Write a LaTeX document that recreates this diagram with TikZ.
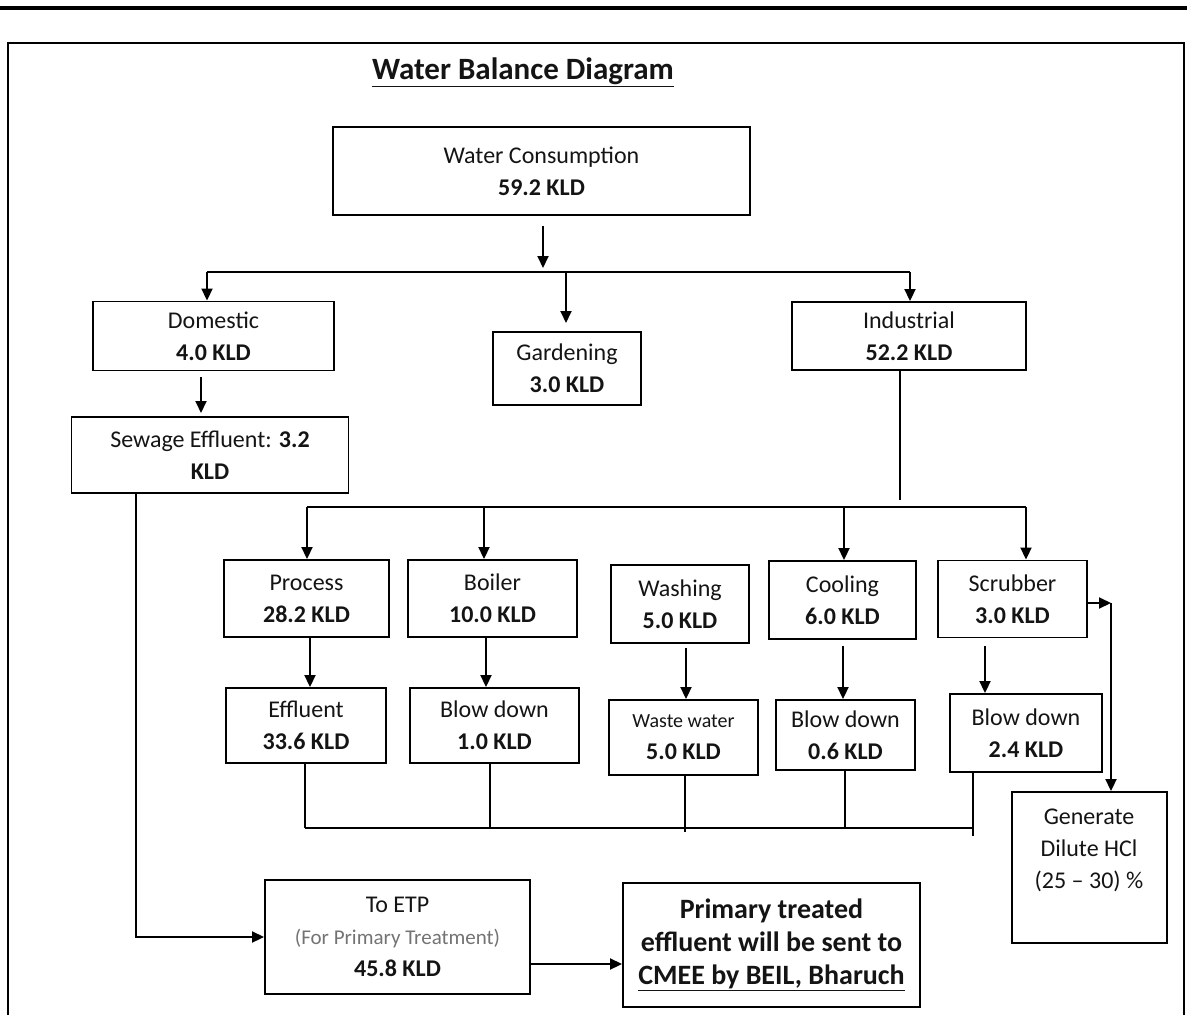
\documentclass[tikz,border=0pt]{standalone}
\usepackage{fontspec}
\setmainfont{Carlito}
\usetikzlibrary{arrows.meta}
\begin{document}
\begin{tikzpicture}[x=1pt,y=-1pt,
  box/.style={draw=black, line width=1.9pt, rectangle, inner sep=0pt, align=center,
    font=\fontsize{24}{32}\selectfont, text=black!92},
  txt/.style={inner sep=0pt, align=center, font=\fontsize{24}{32}\selectfont, text=black!92},
  arr/.style={line width=1.9pt, -{Triangle[length=12pt,width=11pt]}},
  ln/.style={line width=1.9pt}]
\useasboundingbox (0,0) rectangle (1187,1015);
% page rule and frame
\draw[line width=3.5pt] (0,8) -- (1187,8);
\draw[line width=2.6pt] (8,1015) -- (8,43) -- (1184,43) -- (1184,1015);
% title
\node[inner sep=0pt, font=\fontsize{31}{36}\selectfont\bfseries, text=black!92] (title) at (523,72) {\underline{Water Balance Diagram}};
% level 1
\node[box, minimum width=417, minimum height=88] (wc) at (541.5,171) {Water Consumption\\\textbf{59.2 KLD}};
% level 2
\node[box, minimum width=241, minimum height=69] (dom) at (213.5,336) {Domestic\\\textbf{4.0 KLD}};
\node[box, minimum width=148, minimum height=73] (gard) at (567,368.5) {Gardening\\\textbf{3.0 KLD}};
\node[box, minimum width=234, minimum height=68] (ind) at (909,336) {Industrial\\\textbf{52.2 KLD}};
\node[box, minimum width=277, minimum height=76] (sew) at (210,455) {Sewage Effluent: \textbf{3.2}\\\textbf{KLD}};
% level 3
\node[box, minimum width=165, minimum height=77] (proc) at (306.5,598.5) {Process\\\textbf{28.2 KLD}};
\node[box, minimum width=169, minimum height=77] (boil) at (492.5,598.5) {Boiler\\\textbf{10.0 KLD}};
\node[box, minimum width=138, minimum height=78] (wash) at (680,604) {Washing\\\textbf{5.0 KLD}};
\node[box, minimum width=147, minimum height=78] (cool) at (842.5,600) {Cooling\\\textbf{6.0 KLD}};
\node[box, minimum width=149, minimum height=77] (scrub) at (1012.5,599) {Scrubber\\\textbf{3.0 KLD}};
% level 4
\node[box, minimum width=160, minimum height=75] (eff) at (306,725.5) {Effluent\\\textbf{33.6 KLD}};
\node[box, minimum width=169, minimum height=75] (bd1) at (494.5,725.5) {Blow down\\\textbf{1.0 KLD}};
\node[box, minimum width=149, minimum height=75] (ww) at (683.5,737.5) {{\fontsize{20}{28}\selectfont Waste water}\\\textbf{5.0 KLD}};
\node[box, minimum width=139, minimum height=70] (bd2) at (845.5,735) {Blow down\\\textbf{0.6 KLD}};
\node[box, minimum width=152, minimum height=78] (bd3) at (1026,733) {Blow down\\\textbf{2.4 KLD}};
% generate HCl
\node[box, minimum width=155, minimum height=151] (gen) at (1089.5,867.5) {};
\node[txt] (gentxt) at (1089,850) {Generate\\Dilute HCl\\(25 -- 30) \%};
% ETP and final
\node[box, minimum width=265, minimum height=114] (etp) at (397.5,937) {To ETP\\{\fontsize{21}{30}\selectfont\color{black!55}(For Primary Treatment)}\\\textbf{45.8 KLD}};
\node[box, minimum width=297, minimum height=124, font=\fontsize{28}{33}\selectfont\bfseries] (prim) at (771.5,945) {Primary treated\\effluent will be sent to\\\underline{CMEE by BEIL, Bharuch}};
% ---- connectors: top tree
\coordinate (wcs) at (543,226);
\coordinate (wcj) at (543,268);
\coordinate (bl) at (207,272);
\coordinate (br) at (910,272);
\coordinate (gj) at (566,272);
\coordinate (ge) at (566,323);
\draw[arr] (wcs) -- (wcj);
\draw[ln] (bl) -- (br);
\draw[arr] (bl) -- (bl |- dom.north);
\draw[arr] (br) -- (br |- ind.north);
\draw[arr] (gj) -- (ge);
% domestic -> sewage
\coordinate (ds) at (201,377);
\coordinate (de) at (201,413);
\draw[arr] (ds) -- (de);
% sewage -> ETP
\coordinate (sx) at (136,493);
\draw[arr] (sx) |- (etp.west);
% industrial -> bus
\coordinate (is) at (900,370);
\coordinate (ie) at (900,500);
\draw[ln] (is) -- (ie);
\coordinate (b2l) at (307,507);
\coordinate (b2r) at (1026,507);
\coordinate (b2b) at (484,507);
\coordinate (b2c) at (844,507);
\draw[ln] (b2l) -- (b2r);
\draw[arr] (b2l) -- (b2l |- proc.north);
\draw[arr] (b2b) -- (b2b |- boil.north);
\draw[arr] (b2c) -- (b2c |- cool.north);
\draw[arr] (b2r) -- (b2r |- scrub.north);
% level 3 -> level 4
\coordinate (p1) at (310,637);
\coordinate (p2) at (486,637);
\coordinate (p3) at (686,648);
\coordinate (p4) at (843,646);
\coordinate (p5) at (985,646);
\draw[arr] (p1) -- (p1 |- eff.north);
\draw[arr] (p2) -- (p2 |- bd1.north);
\draw[arr] (p3) -- (p3 |- ww.north);
\draw[arr] (p4) -- (p4 |- bd2.north);
\draw[arr] (p5) -- (p5 |- bd3.north);
% collector
\coordinate (c1) at (305,828);
\coordinate (c2) at (490,828);
\coordinate (c3) at (685,828);
\coordinate (c4) at (845,828);
\coordinate (c5) at (973,828);
\coordinate (c5b) at (973,836);
\coordinate (c3b) at (685,832);
\draw[ln] (c1) -- (c5);
\draw[ln] (eff.south -| c1) -- (c1);
\draw[ln] (bd1.south -| c2) -- (c2);
\draw[ln] (ww.south -| c3) -- (c3b);
\draw[ln] (bd2.south -| c4) -- (c4);
\draw[ln] (bd3.south -| c5) -- (c5b);
% scrubber -> HCl
\coordinate (sj) at (1111,603);
\draw[arr] ([yshift=-4pt]scrub.east) -- (sj);
\draw[arr] (sj) -- (sj |- gen.north);
% ETP -> final
\coordinate (ea) at (530,964);
\draw[arr] (ea) -- (ea -| prim.west);
\end{tikzpicture}
\end{document}
